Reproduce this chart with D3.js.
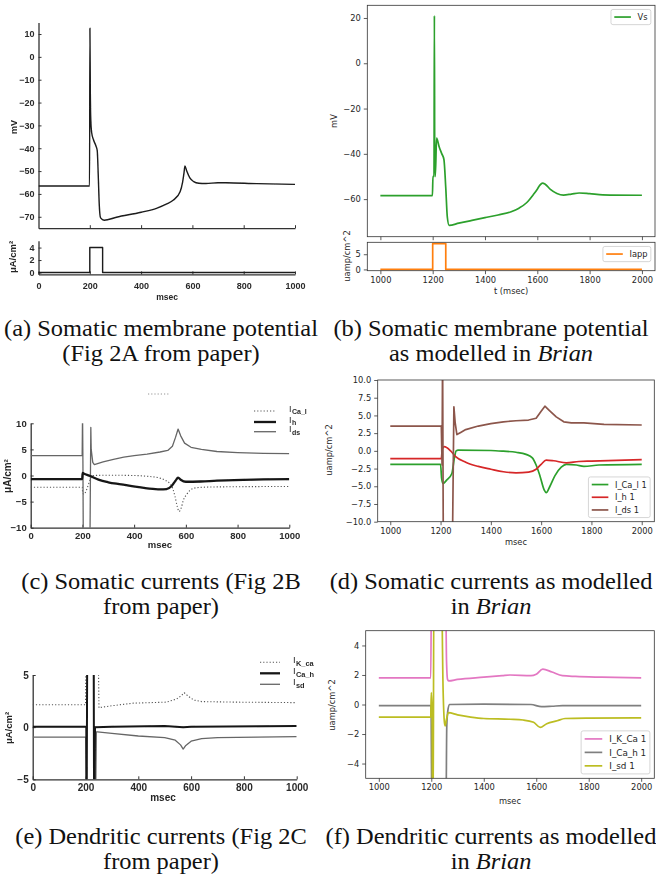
<!DOCTYPE html>
<html><head><meta charset="utf-8">
<script src="https://cdn.jsdelivr.net/npm/d3@7"></script>
<style>
html,body{margin:0;padding:0;background:#fff;}
svg{display:block;}
</style></head><body>
<svg id="fig" width="656" height="879"></svg>
<script>
// ================= data =================
// (a) published somatic potential (mV) and applied current
const somaT = [0,199,200.5,202,204,207,215,224,229,233,237,242,256,304,400,460,500,526,552,562,567,571,578,590,605,625,652,700,730,850,1000];
const somaV = [-56.5,-56.5,12.5,-15,-28,-33,-36.5,-39,-41,-52,-65,-70.5,-71.5,-70.2,-68,-66.3,-64.4,-62.7,-59,-54.7,-51,-47.7,-50,-53,-54.6,-55.3,-55.4,-55.1,-55.1,-55.5,-55.8];
const paperIappT = [0,200,250,1000];
const paperIappV = [0,4,0,0];

// (b) Brian somatic potential and applied current
const vsT = [1000,1199,1201,1205,1206.5,1208,1210,1215,1225,1235,1243,1250,1256,1263,1300,1350,1400,1450,1500,1530,1560,1585,1600,1610,1620,1630,1650,1675,1700,1730,1760,1800,1850,2000];
const vsV = [-58.5,-58.5,-50,-50,21,-50,-50,-33,-37,-40,-42.5,-55,-68,-71.6,-70.6,-69.4,-68.2,-67,-65.6,-64,-61.5,-58,-55.6,-53.8,-52.9,-53.4,-55.7,-57.5,-58.2,-57.8,-57.3,-57.6,-58.1,-58.3];
const iappT = [1000,1200,1250,2000];
const iappV = [0,8.5,0,0];

// (c) published somatic currents
const caLT = [0,199,201,205,212,220,230,240,300,400,450,500,520,539,550,558,566,574,582,590,605,617,640,700,1000];
const caLV = [-2.25,-2.25,-3.3,-3.6,-3.2,-2.2,-0.8,0,0.05,0,-0.15,-0.5,-0.9,-1.6,-2.6,-4.0,-5.8,-6.9,-6.2,-4.8,-3.5,-2.8,-2.35,-2.2,-2.1];
const hT = [0,199,201,205,230,262,300,350,397,450,500,525,545,560,570,580,600,657,720,786,900,1000];
const hV = [-0.7,-0.7,0.5,0.4,-0.1,-0.8,-1.3,-1.7,-2.1,-2.45,-2.65,-2.6,-2.0,-1.0,-0.4,-0.8,-1.2,-1.15,-1.0,-0.9,-0.75,-0.7];
const dsT = [0,199,200.5,202,203.5,229,231,232.5,234,240,246,280,320,360,400,450,500,530,548,560,570,580,595,620,660,720,800,900,1000];
const dsV = [3.8,3.8,12,2,-14,-14,0,9.2,5,2.5,2.1,2.6,3.1,3.5,3.8,4.1,4.5,4.8,5.6,7.3,8.9,7.6,6.2,5.4,5.0,4.6,4.4,4.25,4.2];

// (d) Brian somatic currents
const bCaLT = [1000,1200,1204,1210,1225,1245,1255,1262,1270,1400,1450,1500,1540,1565,1580,1595,1612,1620,1635,1655,1680,1700,1740,1770,1830,2000];
const bCaLV = [-1.9,-1.9,-3.8,-4.6,-4.1,-3.2,-1.0,0,0.1,0.05,-0.05,-0.2,-0.5,-1.0,-2.0,-3.5,-5.5,-5.9,-5.0,-3.5,-2.3,-1.9,-2.0,-2.2,-2.0,-1.9];
const bHT = [1000,1203,1207,1215,1240,1260,1300,1350,1400,1450,1500,1550,1580,1600,1620,1650,1700,1750,1800,2000];
const bHV = [-1.1,-1.1,0.3,0.6,0.0,-0.8,-1.6,-2.2,-2.6,-2.95,-3.1,-3.0,-2.6,-1.9,-1.3,-1.4,-1.7,-1.5,-1.45,-1.25];
const bDsT = [1000,1203,1206,1208,1211,1247,1253,1258,1265,1280,1300,1350,1400,1450,1500,1550,1580,1600,1615,1630,1660,1690,1720,1770,1850,2000];
const bDsV = [3.5,3.5,-2,14,-14,-14,6.2,4,2.3,2.6,3.0,3.5,3.85,4.1,4.25,4.35,4.6,5.6,6.3,5.8,4.8,4.1,3.95,3.95,3.75,3.65];

// (e) published dendritic currents
const kCaT = [0,200,202,248,251,258,300,381,507,545,562,574,590,610,640,760,1000];
const kCaV = [2.15,2.15,8,8,1.85,1.9,2.05,2.3,2.4,2.7,3.0,3.3,2.95,2.6,2.45,2.4,2.35];
const caHT = [0,203,204.5,206.5,231,232.5,234,236,300,500,570,600,1000];
const caHV = [0.05,0.05,-8,8,8,-8,-8,0,0.05,0.1,0.0,0.05,0.1];
const sdT = [0,201,202.5,236,238,241,245,300,400,500,540,560,570,580,600,640,700,1000];
const sdV = [-0.95,-0.95,-8,-8,-8,-0.45,-0.45,-0.6,-0.85,-1.0,-1.25,-1.7,-2.1,-1.75,-1.35,-1.1,-1.0,-0.9];

// (f) Brian dendritic currents
const bKCaT = [1000,1198,1201,1254,1258,1262,1266,1300,1400,1470,1500,1580,1600,1625,1660,1700,1750,1850,2000];
const bKCaV = [1.8,1.8,9,9,3,1.7,1.6,1.7,1.85,1.95,2.0,1.95,2.05,2.4,2.2,1.95,1.9,1.85,1.8];
const bCaHT = [1000,1199,1202,1256,1259,1264,1270,1400,1580,1620,1660,1700,2000];
const bCaHV = [-0.08,-0.08,-7,-7,-1.5,-0.3,0.0,0.02,0.0,-0.15,-0.12,-0.08,-0.08];
const bSdT = [1000,1198,1200,1203,1205,1207,1210,1238,1245,1250,1253,1258,1265,1300,1350,1400,1500,1550,1590,1615,1640,1680,1710,1800,2000];
const bSdV = [-0.85,-0.85,0.8,-0.5,-8,-8,9,9,1,-1.2,-1.45,-1.0,-0.55,-0.7,-0.85,-0.95,-1.0,-1.05,-1.2,-1.55,-1.3,-1.1,-0.95,-0.92,-0.9];

// tick values
const paperTimeTicks = [0,200,400,600,800,1000];
const somaTicks = [10,0,-10,-20,-30,-40,-50,-60,-70];
const paperIappTicks = [0,2,4];
const paperSomCurTicks = [-10,-5,0,5,10];
const paperDenCurTicks = [-5,0,5];
const brianTimeTicks = [1000,1200,1400,1600,1800,2000];
const vsTicks = [-60,-40,-20,0,20];
const iappTicks = [0,5];
const somCurTicks = [-10,-7.5,-5,-2.5,0,2.5,5,7.5,10];
const denCurTicks = [-4,-2,0,2,4];

// legend labels and colours
const somLegend = ["I_Ca_l 1","I_h 1","I_ds 1"];
const denLegend = ["I_K_Ca 1","I_Ca_h 1","I_sd 1"];
const somColors = ["#2ca02c","#d62728","#8c564b"];
const denColors = ["#e377c2","#7f7f7f","#bcbd22"];
const paperSomSubs = ["Ca_l","h","ds"];
const paperDenSubs = ["K_ca","Ca_h","sd"];

// ================= drawing helpers =================
const svg = d3.select("#fig");
const defs = svg.append("defs");
defs.append("filter").attr("id", "soft").attr("x", "-5%").attr("y", "-5%").attr("width", "110%").attr("height", "110%")
  .append("feGaussianBlur").attr("stdDeviation", 0.35);
let clipId = 0;
const PAPER_FONT = "'Liberation Sans', Arial, sans-serif";
const MPL_FONT = "'DejaVu Sans', sans-serif";
const intFmt = d3.format("d");

function clipFor(x, y) {
  const id = "clip" + (clipId++);
  const [x0, x1] = x.range(), [y0, y1] = y.range();
  defs.append("clipPath").attr("id", id).append("rect")
    .attr("x", Math.min(x0, x1)).attr("y", Math.min(y0, y1))
    .attr("width", Math.abs(x1 - x0)).attr("height", Math.abs(y1 - y0));
  return "url(#" + id + ")";
}

function trace(g, x, y, T, V, curve) {
  return g.append("path")
    .datum(d3.zip(T, V))
    .attr("fill", "none")
    .attr("stroke-linejoin", "round")
    .attr("d", d3.line().x(d => x(d[0])).y(d => y(d[1])).curve(curve || d3.curveMonotoneX));
}

// axis in the style of the scanned journal figure: thin lines, inward ticks
function paperAxis(g, axis, transform, size) {
  const a = g.append("g").attr("transform", transform).call(axis);
  a.attr("font-family", PAPER_FONT).attr("font-size", size).attr("font-weight", "bold");
  a.selectAll("text").attr("fill", "#2a2a2a");
  a.selectAll("line").attr("stroke", "#333").attr("stroke-width", 1);
  a.select(".domain").attr("stroke", "#333").attr("stroke-width", 1.3);
  return a;
}

// axis in matplotlib style: outward ticks, framed box drawn separately
function mplAxis(g, axis, transform, size) {
  const a = g.append("g").attr("transform", transform).call(axis);
  a.attr("font-family", MPL_FONT).attr("font-size", size);
  a.selectAll("text").attr("fill", "#262626");
  a.selectAll("line").attr("stroke", "#333").attr("stroke-width", 0.8);
  a.select(".domain").remove();
  return a;
}

function mplFrame(g, x, y) {
  const [x0, x1] = x.range(), [y0, y1] = y.range();
  g.append("rect").attr("x", x0).attr("y", y1).attr("width", x1 - x0).attr("height", y0 - y1)
    .attr("fill", "none").attr("stroke", "#333").attr("stroke-width", 0.8);
}

function mplLegend(g, x, y, corner, labels, colors, fs) {
  const pad = 0.4 * fs, handle = 2 * fs, gap = 0.8 * fs, rowH = 1.03 * fs, spacing = 0.5 * fs, offset = 0.5 * fs;
  const lg = g.append("g");
  const box = lg.append("rect").attr("fill", "#fff").attr("fill-opacity", 0.8)
    .attr("stroke", "#ccc").attr("stroke-width", 0.8).attr("rx", 2);
  const texts = labels.map(t => lg.append("text").text(t)
    .attr("font-family", MPL_FONT).attr("font-size", fs).attr("fill", "#262626"));
  const tw = d3.max(texts, t => t.node().getComputedTextLength());
  const w = pad * 2 + handle + gap + tw;
  const h = pad * 2 + labels.length * rowH + (labels.length - 1) * spacing;
  const [xa0, xa1] = x.range(), [ya0, ya1] = y.range();
  const bx = xa1 - offset - w;
  const by = corner === "upper" ? ya1 + offset : ya0 - offset - h;
  box.attr("x", bx).attr("y", by).attr("width", w).attr("height", h);
  labels.forEach((t, i) => {
    const cy = by + pad + i * (rowH + spacing) + rowH / 2;
    lg.append("line").attr("x1", bx + pad).attr("x2", bx + pad + handle)
      .attr("y1", cy).attr("y2", cy).attr("stroke", colors[i]).attr("stroke-width", 1.7);
    texts[i].attr("x", bx + pad + handle + gap).attr("y", cy).attr("dy", "0.36em");
  });
}

function rotLabel(g, text, x, y, font, size, weight) {
  g.append("text").text(text).attr("transform", `translate(${x},${y}) rotate(-90)`)
    .attr("text-anchor", "middle").attr("dy", "0.35em")
    .attr("font-family", font).attr("font-size", size).attr("font-weight", weight || "normal")
    .attr("fill", "#262626");
}

function label(g, text, x, y, font, size, weight) {
  g.append("text").text(text).attr("x", x).attr("y", y).attr("text-anchor", "middle")
    .attr("dy", "0.35em").attr("font-family", font).attr("font-size", size)
    .attr("font-weight", weight || "normal").attr("fill", "#262626");
}

const paperStyles = [
  {stroke: "#555", width: 1.1, dash: "1.2,2"},
  {stroke: "#151515", width: 2.3, dash: null},
  {stroke: "#666", width: 1.3, dash: null}
];
function applyStyle(p, s) {
  p.attr("stroke", s.stroke).attr("stroke-width", s.width);
  if (s.dash) p.attr("stroke-dasharray", s.dash);
  return p;
}

// legend of the journal figure: sample line, then "I" with a subscript
function paperLegend(g, x0, x1, ys, subs, size) {
  subs.forEach((sub, i) => {
    applyStyle(g.append("line").attr("x1", x0).attr("x2", x1).attr("y1", ys[i]).attr("y2", ys[i]), paperStyles[i]);
    g.append("text").text("I").attr("x", x1 + 13).attr("y", ys[i] + 0.5)
      .attr("font-family", PAPER_FONT).attr("font-size", size).attr("fill", "#2a2a2a");
    g.append("text").text(sub).attr("x", x1 + 16).attr("y", ys[i] + 3.2)
      .attr("font-family", PAPER_FONT).attr("font-size", size * 0.78).attr("font-weight", "bold").attr("fill", "#2a2a2a");
  });
}

// two-line caption in a serif face, slightly widened glyphs
function caption(g, lines, cx, y0, lh) {
  lines.forEach((parts, i) => {
    const t = g.append("text").attr("transform", `translate(${cx},${y0 + i * lh}) scale(1.1,1)`)
      .attr("text-anchor", "middle")
      .attr("font-family", "'Liberation Serif', 'Times New Roman', serif").attr("font-size", 22.2).attr("fill", "#111");
    parts.forEach(p => t.append("tspan").text(p.t).attr("font-style", p.i ? "italic" : "normal"));
  });
}

// ================= (a) =================
{
  const root = svg.append("g");
  const g = root.append("g").attr("filter", "url(#soft)");
  const x = d3.scaleLinear([0, 1000], [38.5, 295]);
  const y = d3.scaleLinear([-75, 15], [228.2, 22.6]);
  const yi = d3.scaleLinear([-0.3, 5.1], [274.4, 240.7]);
  paperAxis(g, d3.axisLeft(y).tickValues(somaTicks).tickSizeInner(-3).tickSizeOuter(0).tickPadding(4), `translate(${x(0)},0)`, 9);
  paperAxis(g, d3.axisBottom(x).tickValues(paperTimeTicks.slice(1)).tickSizeInner(-3).tickSizeOuter(0).tickFormat(""), `translate(0,${y(-75)})`, 9);
  paperAxis(g, d3.axisLeft(yi).tickValues(paperIappTicks).tickFormat(intFmt).tickSizeInner(-3).tickSizeOuter(0).tickPadding(4), `translate(${x(0)},0)`, 9);
  paperAxis(g, d3.axisBottom(x).tickValues(paperTimeTicks).tickFormat(intFmt).tickSizeInner(-3).tickSizeOuter(0).tickPadding(8), `translate(0,${yi(-0.3)})`, 9);
  trace(g.append("g").attr("clip-path", clipFor(x, y)), x, y, somaT, somaV, d3.curveMonotoneX)
    .attr("stroke", "#1a1a1a").attr("stroke-width", 1.4);
  trace(g, x, yi, paperIappT, paperIappV, d3.curveStepAfter).attr("stroke", "#1a1a1a").attr("stroke-width", 1.4);
  rotLabel(g, "mV", 13.5, 127, PAPER_FONT, 9, "bold");
  rotLabel(g, "μA/cm²", 12.5, 257, PAPER_FONT, 9.5, "bold");
  label(g, "msec", 167, 297, PAPER_FONT, 8.5, "bold");
  caption(root, [[{t: "(a) Somatic membrane potential"}], [{t: "(Fig 2A from paper)"}]], 161, 336, 24.5);
}

// ================= (b) =================
{
  const g = svg.append("g");
  const fs = 8.3;
  const x = d3.scaleLinear([950, 2050], [367.3, 655]);
  const y = d3.scaleLinear([-76.6, 25.6], [236.7, 5.3]);
  const yi = d3.scaleLinear([-0.425, 8.925], [270.7, 242.3]);
  mplAxis(g, d3.axisLeft(y).tickValues(vsTicks).tickFormat(intFmt).tickSize(3.5).tickPadding(3), `translate(${x.range()[0]},0)`, fs);
  mplAxis(g, d3.axisBottom(x).tickValues(brianTimeTicks).tickSize(3.5).tickFormat(""), `translate(0,${y.range()[0]})`, fs);
  mplAxis(g, d3.axisLeft(yi).tickValues(iappTicks).tickFormat(intFmt).tickSize(3.5).tickPadding(3), `translate(${x.range()[0]},0)`, fs);
  mplAxis(g, d3.axisBottom(x).tickValues(brianTimeTicks).tickFormat(intFmt).tickSize(3.5).tickPadding(2.5), `translate(0,${yi.range()[0]})`, fs);
  trace(g.append("g").attr("clip-path", clipFor(x, y)), x, y, vsT, vsV, d3.curveMonotoneX)
    .attr("stroke", "#2ca02c").attr("stroke-width", 1.7);
  trace(g.append("g").attr("clip-path", clipFor(x, yi)), x, yi, iappT, iappV, d3.curveStepAfter)
    .attr("stroke", "#ff7f0e").attr("stroke-width", 1.7);
  mplFrame(g, x, y);
  mplFrame(g, x, yi);
  mplLegend(g, x, y, "upper", ["Vs"], ["#2ca02c"], fs);
  mplLegend(g, x, yi, "upper", ["Iapp"], ["#ff7f0e"], fs);
  rotLabel(g, "mV", 334, 121, MPL_FONT, fs);
  rotLabel(g, "uamp/cm^2", 347, 256, MPL_FONT, fs);
  label(g, "t (msec)", d3.mean(x.range()), 291.5, MPL_FONT, fs);
  caption(g, [[{t: "(b) Somatic membrane potential"}], [{t: "as modelled in "}, {t: "Brian", i: true}]], 491, 336, 24.5);
}

// ================= (c) =================
{
  const root = svg.append("g");
  const g = root.append("g").attr("filter", "url(#soft)");
  const x = d3.scaleLinear([0, 1000], [30.7, 289.3]);
  const y = d3.scaleLinear([-10, 10], [527.7, 423.3]);
  paperAxis(g, d3.axisLeft(y).tickValues(paperSomCurTicks).tickFormat(intFmt).tickSizeInner(-3).tickSizeOuter(0).tickPadding(4), `translate(${x(0)},0)`, 9.5);
  paperAxis(g, d3.axisBottom(x).tickValues(paperTimeTicks).tickFormat(intFmt).tickSizeInner(-3).tickSizeOuter(0).tickPadding(5), `translate(0,${y(-10)})`, 9.5);
  const pg = g.append("g").attr("clip-path", clipFor(x, y));
  applyStyle(trace(pg, x, y, caLT, caLV), paperStyles[0]);
  applyStyle(trace(pg, x, y, dsT, dsV, d3.curveLinear), paperStyles[2]);
  applyStyle(trace(pg, x, y, hT, hV), paperStyles[1]);
  paperLegend(g, 254, 276, [411, 422, 431.7], paperSomSubs, 9);
  // faint dotted scan mark above the plot
  g.append("line").attr("x1", 148).attr("x2", 170).attr("y1", 394).attr("y2", 394)
    .attr("stroke", "#888").attr("stroke-width", 0.9).attr("stroke-dasharray", "1.2,2");
  rotLabel(g, "μA/cm²", 7, 476, PAPER_FONT, 10, "bold");
  label(g, "msec", 160, 545, PAPER_FONT, 9.5, "bold");
  caption(root, [[{t: "(c) Somatic currents (Fig 2B"}], [{t: "from paper)"}]], 161, 589, 24.5);
}

// ================= (d) =================
{
  const g = svg.append("g");
  const fs = 8.3;
  const x = d3.scaleLinear([950, 2050], [377.7, 654.3]);
  const y = d3.scaleLinear([-10, 10], [521.7, 380]);
  mplAxis(g, d3.axisLeft(y).tickValues(somCurTicks).tickFormat(d3.format(".1f")).tickSize(3.5).tickPadding(3), `translate(${x.range()[0]},0)`, fs);
  mplAxis(g, d3.axisBottom(x).tickValues(brianTimeTicks).tickFormat(intFmt).tickSize(3.5).tickPadding(2.5), `translate(0,${y.range()[0]})`, fs);
  const pg = g.append("g").attr("clip-path", clipFor(x, y));
  [[bCaLT, bCaLV], [bHT, bHV], [bDsT, bDsV]].forEach(([T, V], i) =>
    trace(pg, x, y, T, V, i === 2 ? d3.curveLinear : d3.curveMonotoneX).attr("stroke", somColors[i]).attr("stroke-width", 1.7));
  mplFrame(g, x, y);
  mplLegend(g, x, y, "lower", somLegend, somColors, fs);
  rotLabel(g, "uamp/cm^2", 329, 450, MPL_FONT, fs);
  label(g, "msec", d3.mean(x.range()), 542.5, MPL_FONT, fs);
  caption(g, [[{t: "(d) Somatic currents as modelled"}], [{t: "in "}, {t: "Brian", i: true}]], 491, 589, 24.5);
}

// ================= (e) =================
{
  const root = svg.append("g");
  const g = root.append("g").attr("filter", "url(#soft)");
  const x = d3.scaleLinear([0, 1000], [32.7, 296.7]);
  const y = d3.scaleLinear([-5, 5], [779.3, 675]);
  paperAxis(g, d3.axisLeft(y).tickValues(paperDenCurTicks).tickFormat(intFmt).tickSizeInner(-3).tickSizeOuter(0).tickPadding(4), `translate(${x(0)},0)`, 10);
  paperAxis(g, d3.axisBottom(x).tickValues(paperTimeTicks).tickFormat(intFmt).tickSizeInner(-3).tickSizeOuter(0).tickPadding(5), `translate(0,${y(-5)})`, 10);
  const pg = g.append("g").attr("clip-path", clipFor(x, y));
  applyStyle(trace(pg, x, y, kCaT, kCaV, d3.curveLinear), paperStyles[0]);
  applyStyle(trace(pg, x, y, sdT, sdV, d3.curveLinear), paperStyles[2]);
  applyStyle(trace(pg, x, y, caHT, caHV, d3.curveLinear), paperStyles[1]).attr("stroke-width", 2);
  paperLegend(g, 260, 280, [662.3, 673.3, 684.3], paperDenSubs, 9.5);
  rotLabel(g, "μA/cm²", 8.3, 728, PAPER_FONT, 9.5, "bold");
  label(g, "msec", 163, 797, PAPER_FONT, 10, "bold");
  caption(root, [[{t: "(e) Dendritic currents (Fig 2C"}], [{t: "from paper)"}]], 161, 844, 24.5);
}

// ================= (f) =================
{
  const g = svg.append("g");
  const fs = 8.3;
  const x = d3.scaleLinear([950, 2050], [365.7, 654.3]);
  const y = d3.scaleLinear([-5, 5], [778.3, 630.7]);
  mplAxis(g, d3.axisLeft(y).tickValues(denCurTicks).tickFormat(intFmt).tickSize(3.5).tickPadding(3), `translate(${x.range()[0]},0)`, fs);
  mplAxis(g, d3.axisBottom(x).tickValues(brianTimeTicks).tickFormat(intFmt).tickSize(3.5).tickPadding(2.5), `translate(0,${y.range()[0]})`, fs);
  const pg = g.append("g").attr("clip-path", clipFor(x, y));
  [[bKCaT, bKCaV], [bCaHT, bCaHV], [bSdT, bSdV]].forEach(([T, V], i) =>
    trace(pg, x, y, T, V, d3.curveMonotoneX).attr("stroke", denColors[i]).attr("stroke-width", 1.7));
  mplFrame(g, x, y);
  mplLegend(g, x, y, "lower", denLegend, denColors, 8.8);
  rotLabel(g, "uamp/cm^2", 332, 705, MPL_FONT, fs);
  label(g, "msec", d3.mean(x.range()), 801, MPL_FONT, fs);
  caption(g, [[{t: "(f) Dendritic currents as modelled"}], [{t: "in "}, {t: "Brian", i: true}]], 491, 844, 24.5);
}
</script>
</body></html>
